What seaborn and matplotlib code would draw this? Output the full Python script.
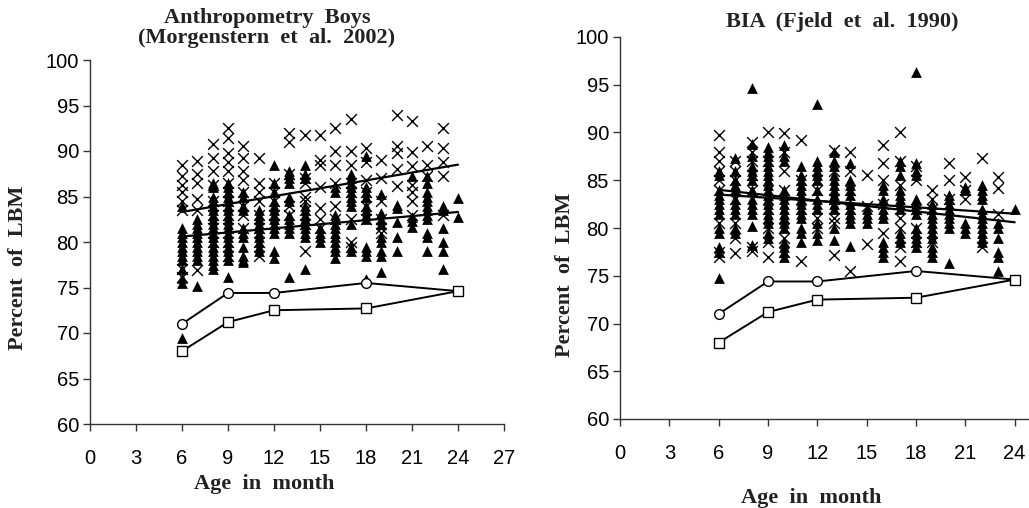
import matplotlib
matplotlib.use("Agg")
import matplotlib.pyplot as plt
import seaborn as sns
import pandas as pd

# ages (months) for the scatter columns
ages = list(range(6, 25))

# --- Anthropometry Boys (Morgenstern et al. 2002) ---
left_cross = [
    [88.5, 87.2, 86.3, 85.5, 84.5, 83.5, 77.0, 76.2],
    [88.9, 87.5, 86.5, 84.7, 83.5, 76.9],
    [90.8, 89.2, 87.8, 86.3, 84.5, 83.0, 81.5, 80.0],
    [92.5, 91.4, 89.8, 88.8, 87.8, 86.5, 85.5, 84.5, 83.0, 81.5, 80.0, 78.5],
    [90.6, 89.2, 87.8, 86.8, 85.5, 84.0, 83.0, 81.5],
    [89.2, 86.5, 85.5, 84.5, 83.0, 81.5, 80.0, 78.5],
    [86.5, 85.5, 84.5, 83.0, 82.0],
    [92.0, 91.0, 87.5, 84.0, 83.0],
    [91.8, 87.0, 86.5, 85.0, 84.5, 83.5, 82.0, 79.0],
    [91.8, 89.0, 88.5, 86.0, 83.7, 82.5, 81.5],
    [92.5, 90.0, 88.5, 86.5, 84.0, 82.5],
    [93.5, 90.0, 88.5, 86.5, 85.5, 82.5, 80.0, 79.5],
    [90.3, 88.8, 86.8, 85.5, 84.0, 82.5],
    [89.0, 87.0, 84.5, 82.5, 81.5, 81.0],
    [94.0, 90.5, 89.8, 88.0, 86.1],
    [93.3, 89.9, 88.3, 86.3, 85.5, 84.5, 83.0],
    [90.6, 88.5, 87.2],
    [92.5, 90.3, 88.8, 87.2, 83.0],
    [],
]
left_tri = [
    [84.0, 81.5, 81.0, 80.5, 80.0, 79.5, 79.0, 78.5, 78.0, 77.0, 76.0, 75.5, 69.5],
    [82.5, 82.0, 81.5, 81.0, 80.5, 80.0, 79.5, 79.0, 78.5, 78.0, 75.2],
    [86.5, 86.0, 85.0, 84.5, 84.0, 83.5, 83.0, 82.5, 82.0, 81.5, 81.0, 80.5, 80.0,
     79.5, 79.0, 78.5, 78.0, 77.5, 77.0],
    [86.5, 86.0, 85.5, 85.0, 84.5, 84.0, 83.5, 83.0, 82.5, 82.0, 81.5, 81.0, 80.5,
     80.0, 79.5, 79.0, 78.5, 78.0, 76.2],
    [85.5, 85.0, 84.0, 83.5, 81.5, 81.0, 80.5, 79.5, 78.5, 78.0, 77.8],
    [83.5, 83.0, 82.5, 82.0, 81.5, 81.0, 80.5, 80.0, 79.5, 79.0],
    [88.5, 86.5, 85.5, 84.5, 84.0, 83.5, 83.0, 82.5, 82.0, 81.5, 81.0, 79.0, 78.2],
    [87.8, 87.5, 87.0, 86.5, 85.0, 84.5, 83.0, 82.5, 82.0, 81.5, 81.0, 76.2],
    [88.5, 87.5, 87.0, 84.0, 83.5, 83.0, 82.5, 82.0, 81.5, 81.0, 80.5, 77.0],
    [81.5, 81.0, 80.5, 80.0],
    [86.0, 85.5, 83.0, 82.5, 82.0, 81.5, 81.0, 80.5, 80.0, 79.5, 79.0, 78.2],
    [87.5, 87.0, 86.5, 86.0, 85.5, 85.0, 84.5, 84.0, 82.0, 79.5, 79.0],
    [89.5, 86.0, 85.5, 85.0, 84.0, 83.5, 83.0, 82.5, 79.5, 79.0, 78.5, 75.9],
    [85.3, 83.2, 82.5, 82.0, 80.5, 80.0, 79.0, 78.5, 76.7],
    [84.1, 83.7, 82.2, 80.5, 79.0],
    [87.3, 82.8, 82.3, 81.6],
    [87.2, 86.5, 85.5, 85.0, 84.5, 84.0, 83.5, 83.0, 82.5, 81.0, 80.5, 79.0],
    [84.0, 83.5, 81.5, 80.0, 79.0, 77.0],
    [84.8, 82.7],
]
left_trend_x = [6, 24]
left_trend_upper = [83.3, 88.5]
left_trend_lower = [80.6, 83.3]

# --- BIA (Fjeld et al. 1990) ---
right_cross = [
    [89.7, 88.0, 87.0, 86.0, 85.0, 84.0, 80.5, 77.5, 77.0],
    [87.0, 86.0, 85.0, 83.0, 80.5, 79.0, 77.4],
    [89.0, 88.0, 87.0, 85.5, 84.0, 78.0, 77.6],
    [90.0, 87.0, 84.0, 82.0, 80.0, 78.5, 77.0],
    [89.9, 88.0, 86.0, 84.0, 80.0, 79.0, 77.5],
    [89.2, 85.0, 82.0, 76.5],
    [85.0, 84.0, 81.0, 80.0],
    [88.2, 86.0, 83.0, 81.0, 80.5, 77.2],
    [88.0, 86.0, 84.0, 82.0, 75.5],
    [85.5, 82.3, 78.3],
    [88.7, 86.8, 85.0, 82.5, 79.5],
    [90.0, 87.0, 84.5, 81.0, 80.0, 78.0, 76.5],
    [86.5, 85.0, 82.0, 80.0, 78.5],
    [84.0, 83.0, 82.0, 78.5],
    [86.8, 85.0, 83.0],
    [85.3, 84.0, 83.0],
    [87.3, 78.0],
    [85.3, 84.2, 81.5],
    [],
]
right_tri = [
    [86.0, 85.5, 84.0, 83.5, 83.0, 82.5, 82.0, 81.5, 80.0, 79.5, 78.0, 77.5, 74.8],
    [87.3, 86.0, 85.0, 84.5, 84.0, 83.0, 82.5, 82.0, 81.5, 80.0, 79.5],
    [94.7, 88.8, 87.5, 86.5, 86.0, 85.5, 85.0, 84.0, 83.0, 82.5, 82.0, 81.5, 80.2, 78.2],
    [88.5, 88.0, 87.5, 87.0, 86.5, 86.0, 85.5, 85.0, 84.5, 84.0, 83.5, 83.0, 82.5,
     82.0, 81.5, 81.0, 80.5, 79.5, 79.0],
    [88.7, 87.5, 87.0, 84.0, 83.5, 83.0, 82.5, 82.0, 81.5, 81.0, 80.5, 80.0, 78.5,
     78.0, 77.5, 77.0],
    [86.5, 85.5, 85.0, 84.5, 84.0, 83.5, 83.0, 82.5, 82.0, 81.5, 81.0, 80.0, 79.5, 78.5],
    [93.0, 87.0, 86.5, 86.0, 85.5, 85.0, 84.0, 83.0, 82.5, 82.0, 80.5, 79.5, 78.7],
    [88.0, 87.0, 86.5, 85.5, 85.0, 84.5, 84.0, 83.5, 83.0, 82.5, 82.0, 80.0, 78.7],
    [86.8, 85.0, 84.5, 84.0, 83.5, 82.5, 82.0, 81.5, 81.0, 80.5, 78.1],
    [82.0, 81.5, 81.0, 80.5],
    [84.5, 84.0, 83.0, 82.0, 81.5, 81.0, 78.5, 78.0, 77.5, 77.0],
    [87.0, 86.5, 85.5, 84.0, 83.5, 83.0, 82.5, 82.0, 79.5, 79.0, 78.5],
    [96.3, 86.8, 86.0, 85.5, 83.0, 82.5, 82.0, 81.5, 80.0, 79.5, 79.0, 78.5, 78.0],
    [82.5, 82.0, 81.5, 81.0, 80.5, 80.0, 79.5, 79.0, 78.0, 77.5, 77.0],
    [83.5, 83.0, 82.5, 82.0, 81.5, 81.0, 80.5, 80.0, 76.3],
    [84.3, 84.0, 80.5, 80.0, 79.5],
    [84.5, 84.0, 83.5, 83.0, 82.0, 81.5, 81.0, 80.5, 80.0, 79.5, 79.0, 78.5],
    [80.5, 80.0, 79.0, 77.5, 77.0, 75.5],
    [82.0],
]
right_trend_x = [6, 24]
right_trend_a = [84.0, 80.6]
right_trend_b = [83.5, 81.5]

# reference curves (same in both panels)
ref_age = [6, 9, 12, 18, 24]
ref_circle = [71.0, 74.4, 74.4, 75.5, 74.6]
ref_square = [68.0, 71.2, 72.5, 72.7, 74.6]


def to_long(cols):
    rows = [(a, v) for a, col in zip(ages, cols) for v in col]
    return pd.DataFrame(rows, columns=["age", "lbm"])


sns.set_style("ticks")
plt.rcParams["font.family"] = ["Liberation Sans", "DejaVu Sans"]
serif = ["Liberation Serif", "DejaVu Serif"]

fig = plt.figure(figsize=(10.29, 5.08), dpi=100)
W, H = 1029, 508

ax_l = fig.add_axes([90 / W, 1 - 424 / H, 414 / W, 364 / H])
# right panel runs past the image edge (27 is cut off in the original)
ax_r = fig.add_axes([620 / W, 1 - 419 / H, 444 / W, 382 / H])


def draw_panel(ax, cross, tri, tx, t1, t2):
    sns.scatterplot(data=to_long(cross), x="age", y="lbm", ax=ax, marker="x",
                    color="black", s=60, linewidth=1.0, legend=False, zorder=2)
    sns.scatterplot(data=to_long(tri), x="age", y="lbm", ax=ax, marker="^",
                    color="black", s=60, linewidth=0, legend=False, zorder=3)
    for t in (t1, t2):
        sns.lineplot(x=tx, y=t, ax=ax, color="black", linewidth=1.6, zorder=4)
    sns.lineplot(x=ref_age, y=ref_circle, ax=ax, color="black", linewidth=1.4,
                 marker="o", markersize=7, markerfacecolor="white",
                 markeredgecolor="black", markeredgewidth=1.0, zorder=5)
    sns.lineplot(x=ref_age, y=ref_square, ax=ax, color="black", linewidth=1.4,
                 marker="s", markersize=7, markerfacecolor="white",
                 markeredgecolor="black", markeredgewidth=1.0, zorder=5)
    ax.set_xlim(0, 27)
    ax.set_ylim(60, 100)
    ax.set_xticks(range(0, 28, 3))
    ax.set_yticks(range(60, 101, 5))
    ax.set_xlabel("")
    ax.set_ylabel("")
    sns.despine(ax=ax)
    for sp in ("left", "bottom"):
        ax.spines[sp].set_linewidth(1.0)
        ax.spines[sp].set_color("#333333")
    ax.tick_params(axis="both", direction="out", length=5, width=1.0,
                   color="#333333", labelsize=14.5, labelcolor="black")
    ax.tick_params(axis="x", pad=13)
    ax.tick_params(axis="y", pad=3)


draw_panel(ax_l, left_cross, left_tri, left_trend_x, left_trend_upper, left_trend_lower)
draw_panel(ax_r, right_cross, right_tri, right_trend_x, right_trend_a, right_trend_b)

# titles and axis labels
lab = dict(family=serif, fontweight="bold", fontsize=16, ha="center",
           va="center", color="#222222")
fig.text(267 / W, 1 - 28 / H, "Anthropometry  Boys\n(Morgenstern  et  al.  2002)",
         linespacing=1.0, **lab)
fig.text(842 / W, 1 - 22 / H, "BIA  (Fjeld  et  al.  1990)", **lab)
fig.text(264 / W, 1 - 484 / H, "Age  in  month", **lab)
fig.text(811 / W, 1 - 498 / H, "Age  in  month", **lab)
fig.text(18 / W, 1 - 268 / H, "Percent  of  LBM", rotation=90, **lab)
fig.text(565 / W, 1 - 275 / H, "Percent  of  LBM", rotation=90, **lab)

fig.savefig("out.png", dpi=100)
